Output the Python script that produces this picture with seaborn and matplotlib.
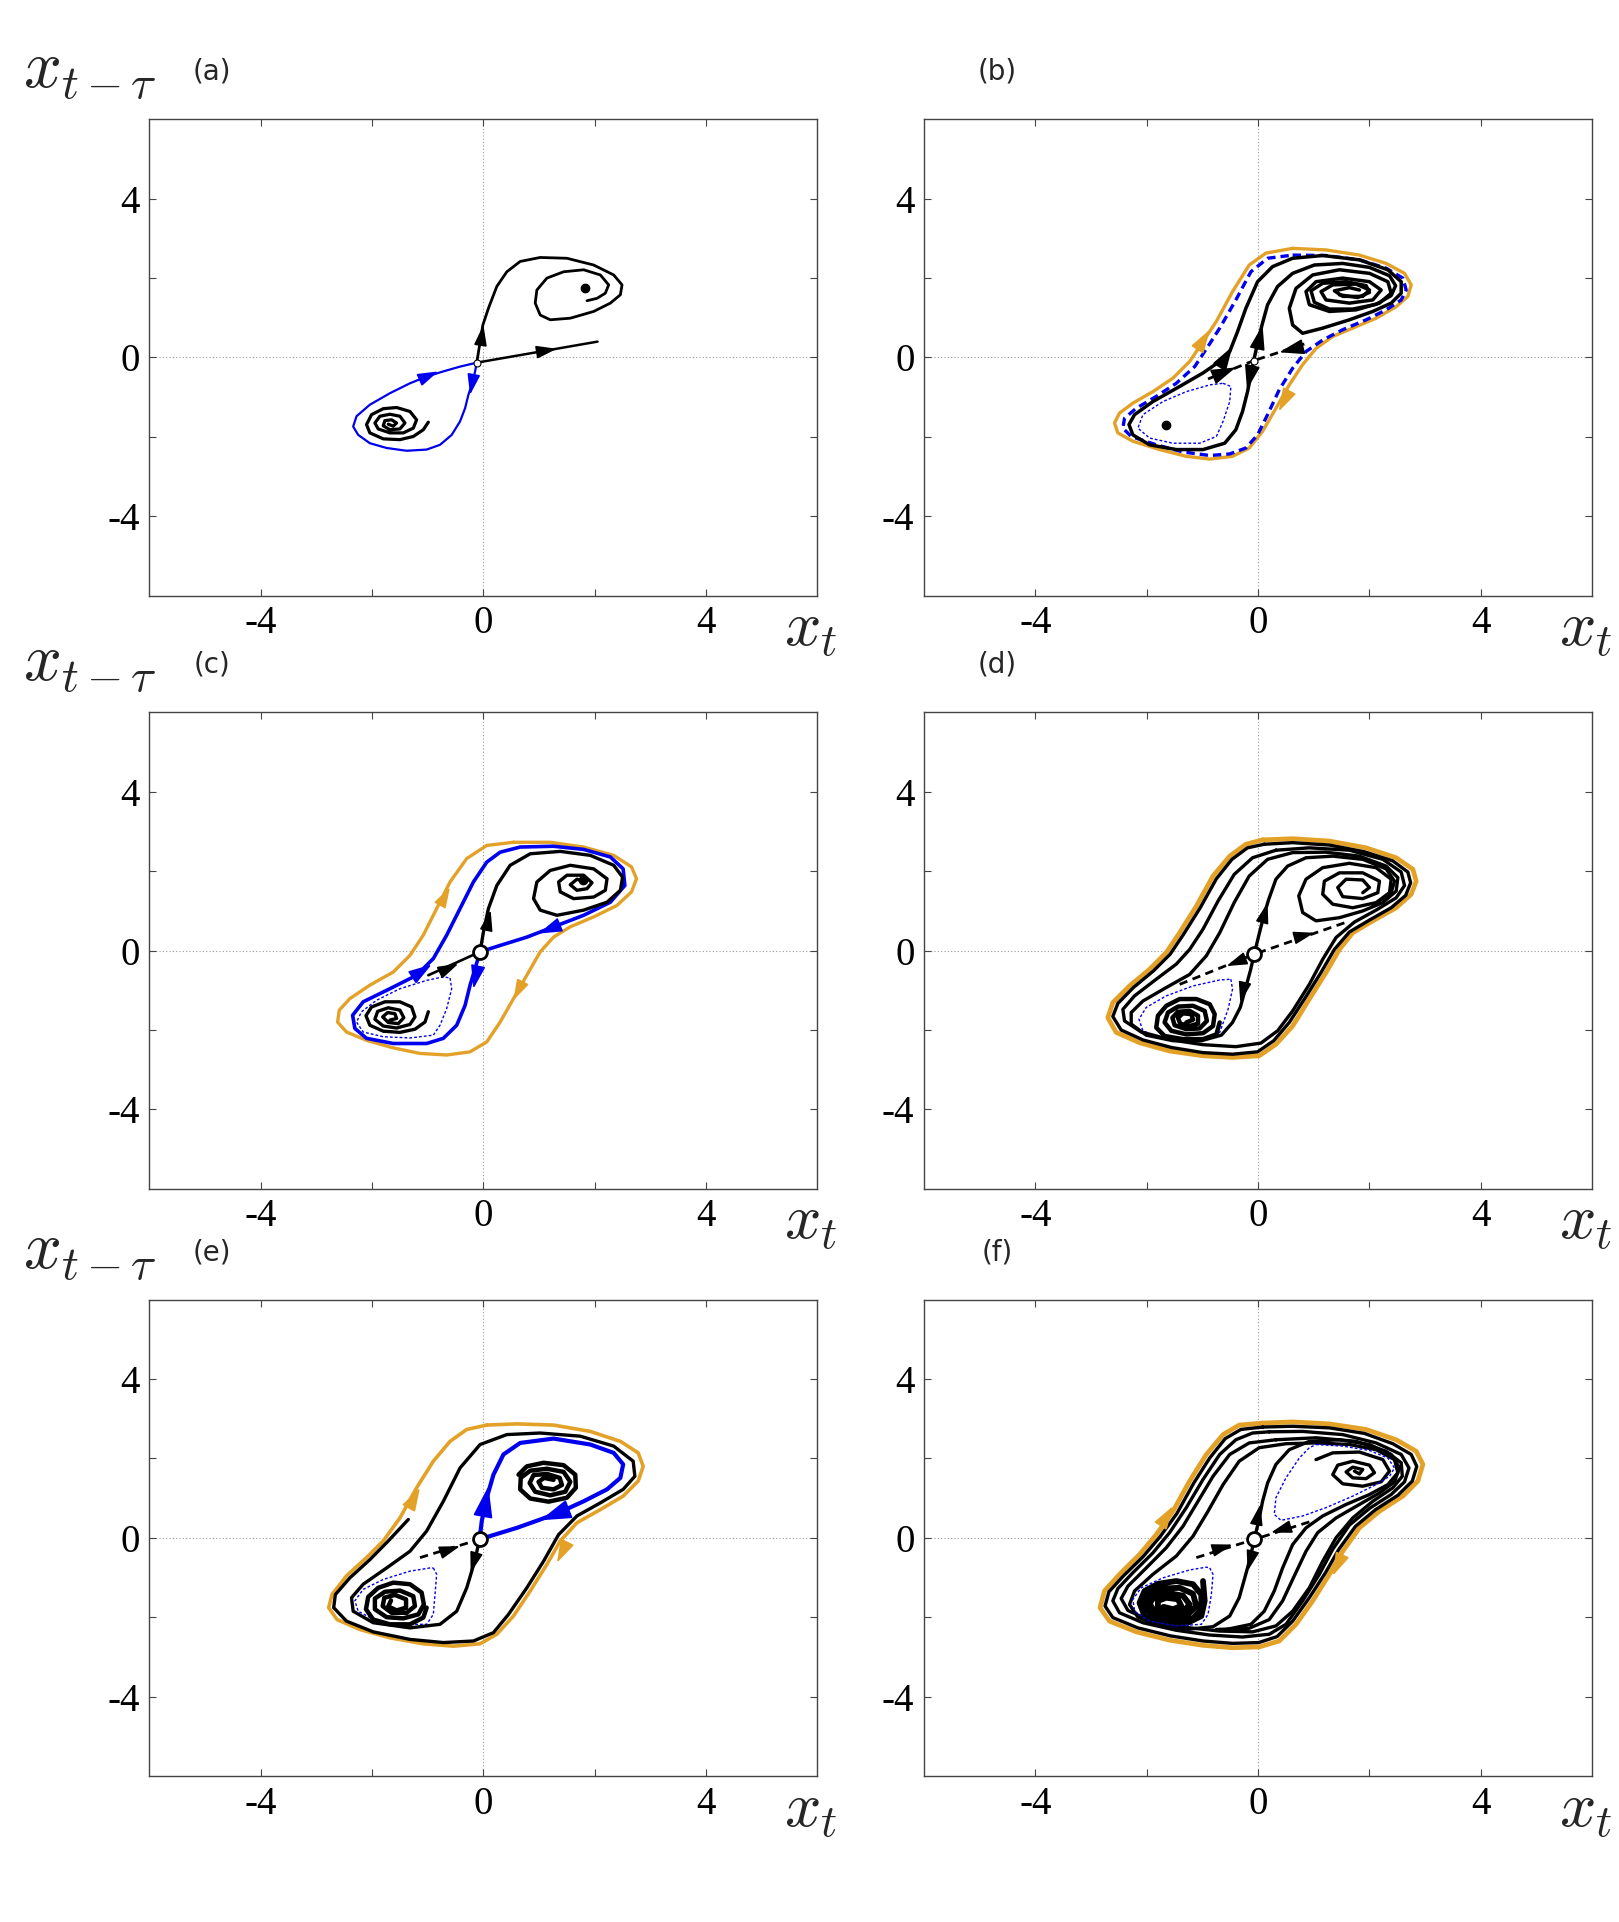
import matplotlib
matplotlib.use("Agg")
import matplotlib.pyplot as plt
import seaborn as sns

# -------------------------------
# STYLE
# -------------------------------
sns.set_theme(style="ticks")
plt.rcParams["font.family"] = ["serif"]
plt.rcParams["font.serif"] = ["Liberation Serif", "DejaVu Serif"]
plt.rcParams["mathtext.fontset"] = "cm"

ORANGE = "#E3A128"
BLUE = "#0000EE"

TICKS = [-4, -2, 0, 2, 4]
TICK_LABELS = ["-4", "", "0", "", "4"]
PANEL_TAGS = ["(a)", "(b)", "(c)", "(d)", "(e)", "(f)"]

# -------------------------------
# PANEL (a)
# -------------------------------
a_saddle = [(-0.12, -0.13)]
a_dots = [(1.83, 1.76)]
a_black_right = [(-0.12, -0.13), (2.05, 0.40)]
a_black_up = [(-0.12, -0.13), (-0.01, 0.82), (0.09, 1.24), (0.24, 1.79), (0.42, 2.16), (0.66, 2.42),
              (1.02, 2.52), (1.50, 2.50), (1.98, 2.33), (2.34, 2.08), (2.49, 1.83), (2.46, 1.58),
              (2.28, 1.37), (1.98, 1.16), (1.56, 0.99), (1.20, 0.95), (1.02, 1.07), (0.93, 1.37),
              (0.96, 1.70), (1.14, 2.00), (1.44, 2.16), (1.80, 2.21), (2.10, 2.08), (2.25, 1.83),
              (2.19, 1.62), (2.04, 1.49), (1.86, 1.43)]
a_blue = [(-0.12, -0.13), (-0.15, -0.35), (-0.19, -0.60), (-0.27, -0.94), (-0.33, -1.28), (-0.42, -1.61),
          (-0.57, -1.95), (-0.78, -2.20), (-1.02, -2.32), (-1.38, -2.35), (-1.74, -2.28), (-2.04, -2.16),
          (-2.25, -1.95), (-2.34, -1.74), (-2.28, -1.48), (-2.04, -1.19), (-1.68, -0.90), (-1.32, -0.65),
          (-1.02, -0.48), (-0.72, -0.35), (-0.42, -0.23), (-0.12, -0.13)]
a_spiral = [(-0.99, -1.63), (-1.08, -1.82), (-1.26, -1.99), (-1.50, -2.07), (-1.80, -2.05), (-2.04, -1.90),
            (-2.10, -1.69), (-2.01, -1.44), (-1.80, -1.29), (-1.56, -1.26), (-1.32, -1.36), (-1.20, -1.57),
            (-1.26, -1.78), (-1.44, -1.90), (-1.68, -1.90), (-1.89, -1.80), (-1.95, -1.65), (-1.86, -1.48),
            (-1.68, -1.43), (-1.50, -1.48), (-1.41, -1.65), (-1.50, -1.80), (-1.68, -1.82), (-1.80, -1.72),
            (-1.77, -1.59), (-1.65, -1.57), (-1.56, -1.65), (-1.62, -1.73), (-1.71, -1.68)]
a_arrows_black = [((1.02, 0.15), (1.32, 0.22)), ((-0.04, 0.44), (0.00, 0.82))]
a_arrows_blue = [((-1.08, -0.52), (-0.81, -0.35)), ((-0.19, -0.56), (-0.24, -0.94))]

# -------------------------------
# PANEL (b)
# -------------------------------
b_saddle = [(-0.08, -0.08)]
b_dots = [(-1.66, -1.69)]
b_orange = [(0.62, 2.75), (1.22, 2.71), (1.82, 2.58), (2.30, 2.37), (2.63, 2.12), (2.75, 1.83),
            (2.69, 1.54), (2.48, 1.28), (2.12, 0.99), (1.70, 0.74), (1.34, 0.53), (1.04, 0.23),
            (0.80, -0.18), (0.56, -0.69), (0.32, -1.28), (0.08, -1.86), (-0.16, -2.28), (-0.46, -2.49),
            (-0.87, -2.56), (-1.29, -2.49), (-1.77, -2.32), (-2.25, -2.11), (-2.52, -1.90), (-2.58, -1.65),
            (-2.49, -1.40), (-2.25, -1.15), (-1.89, -0.86), (-1.53, -0.52), (-1.23, -0.10), (-0.99, 0.40),
            (-0.75, 0.91), (-0.46, 1.66), (-0.16, 2.33), (0.14, 2.63), (0.62, 2.75)]
b_blue_dash = [(0.62, 2.58), (1.22, 2.57), (1.82, 2.46), (2.30, 2.25), (2.60, 2.00), (2.66, 1.70),
               (2.57, 1.45), (2.30, 1.20), (1.94, 0.95), (1.52, 0.70), (1.16, 0.44), (0.86, 0.15),
               (0.62, -0.27), (0.38, -0.81), (0.17, -1.44), (-0.01, -1.95), (-0.22, -2.28), (-0.51, -2.43),
               (-0.87, -2.47), (-1.35, -2.38), (-1.83, -2.20), (-2.28, -1.99), (-2.43, -1.78), (-2.40, -1.53),
               (-2.19, -1.28), (-1.83, -0.98), (-1.47, -0.65), (-1.14, -0.23), (-0.90, 0.28), (-0.69, 0.74),
               (-0.40, 1.45), (-0.13, 2.16), (0.17, 2.50), (0.62, 2.58)]
b_blue_thin = [(-0.63, -0.65), (-0.49, -0.73), (-0.51, -1.11), (-0.63, -1.61), (-0.75, -1.99), (-1.05, -2.16),
               (-1.53, -2.16), (-1.95, -2.03), (-2.16, -1.78), (-2.07, -1.44), (-1.71, -1.11), (-1.29, -0.86),
               (-0.87, -0.69), (-0.63, -0.65)]
b_black_loop = [(-0.08, -0.08), (-0.13, -0.44), (-0.19, -0.86), (-0.28, -1.36), (-0.40, -1.82), (-0.60, -2.16),
                (-0.99, -2.32), (-1.47, -2.32), (-1.95, -2.20), (-2.25, -1.95), (-2.32, -1.69), (-2.22, -1.44),
                (-1.89, -1.11), (-1.41, -0.73), (-0.99, -0.39), (-0.69, -0.10), (-0.51, 0.15), (-0.37, 0.65),
                (-0.22, 1.24), (-0.01, 1.91), (0.26, 2.29), (0.62, 2.50), (1.16, 2.57), (1.82, 2.46),
                (2.33, 2.21), (2.57, 1.91), (2.57, 1.62), (2.39, 1.37), (2.06, 1.16), (1.64, 0.95),
                (1.16, 0.74), (0.80, 0.61), (0.62, 0.82), (0.56, 1.24), (0.68, 1.74), (0.98, 2.08),
                (1.46, 2.21), (2.00, 2.12), (2.33, 1.91), (2.39, 1.62), (2.18, 1.37), (1.76, 1.20),
                (1.28, 1.16), (0.92, 1.33), (0.86, 1.66), (1.04, 1.91), (1.52, 2.00), (2.00, 1.91),
                (2.21, 1.70), (2.06, 1.45), (1.64, 1.37), (1.22, 1.45), (1.13, 1.66), (1.34, 1.83),
                (1.76, 1.85), (2.00, 1.70), (1.88, 1.54), (1.52, 1.54), (1.37, 1.68), (1.64, 1.76),
                (1.82, 1.70)]
b_black_up = [(-0.08, -0.08), (-0.01, 0.36), (0.07, 0.82), (0.17, 1.33), (0.35, 1.79), (0.62, 2.12),
              (1.01, 2.33), (1.52, 2.37), (2.00, 2.27), (2.36, 2.06), (2.47, 1.81), (2.39, 1.56),
              (2.12, 1.34), (1.70, 1.22), (1.28, 1.22), (1.01, 1.39), (0.95, 1.68), (1.16, 1.87),
              (1.58, 1.91), (1.94, 1.81), (2.00, 1.64), (1.79, 1.51), (1.46, 1.58)]
b_stable_left = [(-0.90, -0.54), (-0.08, -0.08)]
b_stable_right = [(0.83, 0.34), (-0.08, -0.08)]
b_arrows_black = [((0.02, 0.45), (0.08, 0.82)), ((-0.14, -0.44), (-0.20, -0.81)),
                  ((-0.63, -0.10), (-0.46, 0.28)), ((-0.69, -0.42), (-0.40, -0.25)),
                  ((0.68, 0.23), (0.38, 0.13))]
b_arrows_orange = [((-1.02, 0.36), (-0.87, 0.70)), ((0.51, -0.98), (0.37, -1.36))]

# -------------------------------
# PANEL (c)
# -------------------------------
c_saddle = [(-0.06, -0.03)]
c_dots = [(1.78, 1.77)]
c_orange = [(0.54, 2.73), (1.20, 2.73), (1.80, 2.61), (2.34, 2.40), (2.66, 2.11), (2.75, 1.81),
            (2.66, 1.48), (2.40, 1.14), (1.98, 0.85), (1.56, 0.60), (1.26, 0.34), (1.02, -0.03),
            (0.78, -0.62), (0.54, -1.21), (0.30, -1.80), (0.06, -2.30), (-0.24, -2.55), (-0.66, -2.63),
            (-1.14, -2.59), (-1.62, -2.45), (-2.10, -2.26), (-2.46, -2.05), (-2.62, -1.80), (-2.59, -1.50),
            (-2.40, -1.21), (-2.04, -0.87), (-1.62, -0.54), (-1.32, -0.12), (-1.08, 0.39), (-0.84, 1.06),
            (-0.60, 1.73), (-0.30, 2.32), (0.06, 2.65), (0.54, 2.73)]
c_blue = [(-0.06, -0.03), (0.30, 0.13), (0.78, 0.34), (1.26, 0.60), (1.80, 0.89), (2.28, 1.22),
          (2.54, 1.64), (2.51, 2.06), (2.28, 2.36), (1.80, 2.55), (1.26, 2.63), (0.66, 2.61),
          (0.30, 2.48), (0.06, 2.23), (-0.18, 1.73), (-0.42, 1.06), (-0.66, 0.39), (-0.90, -0.20),
          (-1.20, -0.62), (-1.68, -0.96), (-2.16, -1.29), (-2.35, -1.63), (-2.31, -1.96), (-2.10, -2.21),
          (-1.62, -2.34), (-1.02, -2.34), (-0.72, -2.21), (-0.48, -1.88), (-0.33, -1.38), (-0.24, -0.87),
          (-0.15, -0.45), (-0.06, -0.03)]
c_black_up = [(-0.06, -0.03), (0.00, 0.47), (0.09, 1.06), (0.24, 1.64), (0.48, 2.15), (0.84, 2.44),
              (1.38, 2.50), (1.92, 2.40), (2.34, 2.15), (2.50, 1.85), (2.46, 1.52), (2.22, 1.22),
              (1.80, 1.02), (1.32, 0.89), (1.02, 1.02), (0.90, 1.31), (0.96, 1.73), (1.20, 2.02),
              (1.56, 2.15), (1.98, 2.06), (2.22, 1.81), (2.19, 1.52), (1.98, 1.35), (1.62, 1.31),
              (1.38, 1.48), (1.35, 1.73), (1.50, 1.90), (1.80, 1.90), (1.95, 1.71), (1.86, 1.56),
              (1.68, 1.52), (1.56, 1.66), (1.68, 1.80), (1.80, 1.74)]
c_black_in = [(-0.99, -0.62), (-0.06, -0.03)]
c_spiral = [(-0.99, -1.54), (-1.05, -1.80), (-1.23, -1.98), (-1.50, -2.06), (-1.80, -2.03), (-2.04, -1.88),
            (-2.11, -1.64), (-2.01, -1.42), (-1.77, -1.29), (-1.50, -1.29), (-1.29, -1.42), (-1.23, -1.67),
            (-1.32, -1.86), (-1.56, -1.95), (-1.80, -1.90), (-1.95, -1.73), (-1.90, -1.53), (-1.71, -1.44),
            (-1.50, -1.50), (-1.43, -1.69), (-1.53, -1.84), (-1.71, -1.81), (-1.81, -1.67), (-1.72, -1.56),
            (-1.59, -1.59), (-1.56, -1.71), (-1.68, -1.75)]
c_blue_thin = [(-0.60, -0.69), (-0.57, -0.96), (-0.66, -1.46), (-0.78, -1.88), (-0.90, -2.13), (-1.32, -2.20),
               (-1.80, -2.17), (-2.16, -2.05), (-2.28, -1.80), (-2.19, -1.54), (-1.92, -1.25), (-1.50, -0.96),
               (-1.02, -0.75), (-0.72, -0.66), (-0.60, -0.69)]
c_arrows_black = [((0.07, 0.64), (0.13, 1.02)), ((-0.72, -0.51), (-0.45, -0.33))]
c_arrows_blue = [((1.32, 0.62), (0.99, 0.43)), ((-1.20, -0.60), (-0.93, -0.35)), ((-0.11, -0.49), (-0.18, -0.96))]
c_arrows_orange = [((-0.75, 1.22), (-0.60, 1.60)), ((0.69, -0.83), (0.54, -1.25))]

# -------------------------------
# PANEL (d)
# -------------------------------
d_saddle = [(-0.07, -0.09)]
d_orange = [(0.08, 2.79), (0.62, 2.82), (1.28, 2.76), (1.94, 2.59), (2.48, 2.34), (2.78, 2.05),
            (2.84, 1.75), (2.75, 1.42), (2.48, 1.08), (2.06, 0.75), (1.70, 0.45), (1.46, 0.03),
            (1.22, -0.55), (0.92, -1.22), (0.62, -1.90), (0.32, -2.36), (0.02, -2.65), (-0.46, -2.69),
            (-0.99, -2.65), (-1.59, -2.53), (-2.13, -2.32), (-2.55, -2.06), (-2.70, -1.69), (-2.61, -1.31),
            (-2.31, -0.89), (-1.95, -0.47), (-1.65, -0.05), (-1.41, 0.45), (-1.11, 1.12), (-0.81, 1.88),
            (-0.51, 2.38), (-0.22, 2.68), (0.08, 2.79)]
d_loop1 = [(0.11, 2.68), (0.62, 2.72), (1.28, 2.66), (1.91, 2.49), (2.42, 2.26), (2.69, 1.98),
           (2.74, 1.71), (2.65, 1.39), (2.39, 1.08), (2.00, 0.77), (1.64, 0.47), (1.37, 0.03),
           (1.13, -0.55), (0.85, -1.18), (0.56, -1.81), (0.28, -2.27), (-0.01, -2.55), (-0.46, -2.61),
           (-0.99, -2.57), (-1.56, -2.44), (-2.07, -2.25), (-2.46, -2.00), (-2.61, -1.66), (-2.52, -1.33),
           (-2.24, -0.93), (-1.88, -0.51), (-1.58, -0.09), (-1.34, 0.41), (-1.04, 1.08), (-0.75, 1.81),
           (-0.47, 2.30), (-0.19, 2.59), (0.11, 2.68)]
d_loop2 = [(0.32, 2.53), (0.92, 2.59), (1.64, 2.53), (2.24, 2.30), (2.57, 1.98), (2.63, 1.64),
           (2.48, 1.33), (2.12, 1.02), (1.73, 0.72), (1.40, 0.33), (1.16, -0.22), (0.92, -0.85),
           (0.62, -1.52), (0.35, -2.02), (0.05, -2.33), (-0.40, -2.42), (-0.99, -2.37), (-1.56, -2.25),
           (-2.10, -2.05), (-2.40, -1.77), (-2.43, -1.48), (-2.22, -1.14), (-1.83, -0.72), (-1.47, -0.34),
           (-1.23, 0.03), (-0.99, 0.54), (-0.72, 1.25), (-0.43, 1.92), (-0.10, 2.34), (0.32, 2.53)]
d_down = [(-0.07, -0.09), (-0.14, -0.51), (-0.23, -0.97), (-0.32, -1.43), (-0.46, -1.81), (-0.66, -2.13),
          (-1.02, -2.27), (-1.53, -2.27), (-2.01, -2.13), (-2.28, -1.85), (-2.28, -1.56), (-2.07, -1.27),
          (-1.65, -0.93), (-1.23, -0.60), (-0.93, -0.13), (-0.69, 0.45), (-0.43, 1.21), (-0.16, 1.88),
          (0.17, 2.30), (0.62, 2.47), (1.22, 2.48), (1.82, 2.38), (2.30, 2.13), (2.51, 1.84),
          (2.48, 1.50), (2.24, 1.21), (1.88, 1.00), (1.46, 0.83), (1.04, 0.75), (0.80, 0.96),
          (0.73, 1.38), (0.86, 1.80), (1.16, 2.09), (1.64, 2.20), (2.12, 2.09), (2.39, 1.80),
          (2.36, 1.46), (2.12, 1.21), (1.70, 1.08), (1.34, 1.17), (1.16, 1.42), (1.19, 1.75),
          (1.46, 1.96), (1.88, 1.96), (2.18, 1.75), (2.15, 1.46), (1.88, 1.31), (1.52, 1.36),
          (1.43, 1.59), (1.58, 1.80), (1.88, 1.78), (2.00, 1.59), (1.88, 1.46)]
d_up = [(-0.07, -0.09), (0.01, 0.37), (0.10, 0.87), (0.19, 1.29), (0.32, 1.80), (0.53, 2.13),
        (0.86, 2.34), (1.34, 2.38), (1.88, 2.30), (2.30, 2.06), (2.45, 1.75), (2.39, 1.46), (2.18, 1.25)]
d_dash_left = [(-1.41, -0.85), (-0.07, -0.09)]
d_dash_right = [(1.55, 0.70), (-0.07, -0.09)]
d_blue_thin = [(-0.49, -0.72), (-0.46, -0.97), (-0.54, -1.48), (-0.69, -2.06), (-0.87, -2.23), (-1.29, -2.25),
               (-1.71, -2.23), (-2.07, -2.02), (-2.14, -1.73), (-2.01, -1.43), (-1.65, -1.14), (-1.17, -0.89),
               (-0.69, -0.74), (-0.49, -0.72)]
d_blob = [(-0.69, -1.81), (-0.75, -2.11), (-0.99, -2.23), (-1.35, -2.23), (-1.68, -2.15), (-1.83, -1.94),
          (-1.80, -1.64), (-1.65, -1.39), (-1.41, -1.22), (-1.11, -1.22), (-0.87, -1.35), (-0.78, -1.60),
          (-0.81, -1.90), (-0.99, -2.08), (-1.29, -2.11), (-1.56, -2.02), (-1.68, -1.81), (-1.62, -1.56),
          (-1.44, -1.41), (-1.17, -1.39), (-0.96, -1.52), (-0.92, -1.77), (-1.05, -1.96), (-1.29, -1.98),
          (-1.50, -1.88), (-1.54, -1.69), (-1.44, -1.54), (-1.23, -1.52), (-1.08, -1.64), (-1.08, -1.84),
          (-1.23, -1.90), (-1.40, -1.84), (-1.44, -1.69), (-1.35, -1.58), (-1.20, -1.60), (-1.17, -1.74),
          (-1.29, -1.81)]
d_arrows_black = [((0.08, 0.75), (0.17, 1.21)), ((-0.25, -0.89), (-0.32, -1.31)),
                  ((-0.34, -0.26), (-0.57, -0.39)), ((0.68, 0.33), (1.01, 0.45))]

# -------------------------------
# PANEL (e)
# -------------------------------
e_saddle = [(-0.07, -0.04)]
e_orange = [(0.06, 2.84), (0.60, 2.87), (1.26, 2.84), (1.92, 2.68), (2.46, 2.43), (2.78, 2.14),
            (2.87, 1.80), (2.78, 1.43), (2.51, 1.05), (2.10, 0.71), (1.68, 0.38), (1.38, -0.08),
            (1.14, -0.67), (0.84, -1.34), (0.54, -1.97), (0.24, -2.43), (-0.06, -2.67), (-0.54, -2.73),
            (-1.08, -2.67), (-1.68, -2.52), (-2.22, -2.31), (-2.63, -2.06), (-2.78, -1.76), (-2.72, -1.43),
            (-2.46, -0.96), (-2.10, -0.50), (-1.80, -0.08), (-1.50, 0.50), (-1.20, 1.26), (-0.90, 1.93),
            (-0.60, 2.43), (-0.30, 2.73), (0.06, 2.84)]
e_black = [(-0.07, -0.04), (-0.13, -0.42), (-0.21, -0.84), (-0.30, -1.26), (-0.48, -1.85), (-0.78, -2.18),
           (-1.32, -2.27), (-1.98, -2.14), (-2.34, -1.85), (-2.37, -1.51), (-2.16, -1.17), (-1.74, -0.76),
           (-1.32, -0.34), (-1.02, 0.17), (-0.72, 0.92), (-0.42, 1.76), (-0.06, 2.35), (0.42, 2.60),
           (1.02, 2.64), (1.74, 2.56), (2.34, 2.31), (2.69, 1.93), (2.72, 1.55), (2.51, 1.22),
           (2.10, 0.88), (1.68, 0.55), (1.35, 0.08), (1.08, -0.59), (0.78, -1.26), (0.45, -1.93),
           (0.18, -2.39), (-0.18, -2.60), (-0.72, -2.64), (-1.32, -2.56), (-1.98, -2.37), (-2.46, -2.10),
           (-2.69, -1.76), (-2.66, -1.43), (-2.40, -1.01), (-2.04, -0.55), (-1.71, -0.08), (-1.35, 0.46)]
e_blue = [(-0.07, -0.04), (-0.03, 0.42), (0.06, 1.01), (0.18, 1.59), (0.36, 2.10), (0.66, 2.39),
          (1.26, 2.50), (1.92, 2.35), (2.34, 2.14), (2.51, 1.85), (2.46, 1.51), (2.22, 1.22),
          (1.80, 0.92), (1.38, 0.65), (1.02, 0.46), (0.60, 0.25), (0.18, 0.07), (-0.03, -0.02)]
e_dash = [(-1.14, -0.50), (-0.07, -0.04)]
e_blue_thin = [(-0.90, -0.76), (-0.84, -0.92), (-0.87, -1.43), (-0.90, -1.93), (-1.02, -2.18), (-1.50, -2.18),
               (-1.92, -2.10), (-2.25, -1.85), (-2.31, -1.59), (-2.16, -1.30), (-1.80, -1.05), (-1.32, -0.84),
               (-0.96, -0.76), (-0.90, -0.76)]
e_blob_left = [(-1.02, -1.76), (-1.08, -2.01), (-1.32, -2.18), (-1.68, -2.18), (-1.98, -2.06), (-2.11, -1.80),
               (-2.07, -1.49), (-1.89, -1.26), (-1.62, -1.13), (-1.32, -1.17), (-1.11, -1.38), (-1.07, -1.68),
               (-1.17, -1.93), (-1.44, -2.03), (-1.74, -2.00), (-1.95, -1.80), (-1.95, -1.53), (-1.77, -1.36),
               (-1.50, -1.33), (-1.26, -1.47), (-1.23, -1.72), (-1.38, -1.89), (-1.65, -1.89), (-1.81, -1.72),
               (-1.78, -1.51), (-1.59, -1.44), (-1.39, -1.55), (-1.39, -1.76), (-1.56, -1.83), (-1.71, -1.73),
               (-1.66, -1.58)]
e_blob_right = [(0.63, 1.59), (0.78, 1.80), (1.08, 1.89), (1.44, 1.83), (1.65, 1.59), (1.66, 1.26),
                (1.50, 1.01), (1.17, 0.91), (0.84, 0.99), (0.66, 1.22), (0.67, 1.51), (0.84, 1.69),
                (1.14, 1.74), (1.44, 1.66), (1.56, 1.41), (1.47, 1.16), (1.20, 1.07), (0.93, 1.16),
                (0.83, 1.38), (0.90, 1.58), (1.14, 1.61), (1.37, 1.51), (1.41, 1.33), (1.26, 1.22),
                (1.05, 1.26), (0.99, 1.41), (1.09, 1.51), (1.26, 1.46)]
e_arrows_black = [((-0.15, -0.50), (-0.23, -0.88)), ((-0.72, -0.35), (-0.42, -0.21))]
e_arrows_blue = [((0.03, 0.84), (0.09, 1.30)), ((1.44, 0.67), (1.02, 0.44))]
e_arrows_orange = [((-1.29, 0.88), (-1.14, 1.26)), ((1.47, -0.21), (1.32, -0.63))]

# -------------------------------
# PANEL (f)
# -------------------------------
f_saddle = [(-0.07, -0.04)]
f_orange = [(0.08, 2.89), (0.62, 2.92), (1.28, 2.87), (1.94, 2.73), (2.48, 2.47), (2.84, 2.18),
            (2.96, 1.85), (2.87, 1.43), (2.60, 1.05), (2.18, 0.67), (1.82, 0.25), (1.52, -0.34),
            (1.28, -0.92), (0.98, -1.59), (0.68, -2.18), (0.38, -2.60), (0.02, -2.75), (-0.46, -2.77),
            (-0.99, -2.71), (-1.59, -2.58), (-2.19, -2.37), (-2.67, -2.10), (-2.84, -1.76), (-2.76, -1.34),
            (-2.49, -0.92), (-2.13, -0.42), (-1.83, 0.08), (-1.53, 0.67), (-1.23, 1.43), (-0.93, 2.10),
            (-0.63, 2.60), (-0.34, 2.84), (0.08, 2.89)]
f_loop1 = [(0.08, 2.79), (0.62, 2.81), (1.28, 2.77), (1.91, 2.63), (2.42, 2.37), (2.75, 2.10),
           (2.85, 1.80), (2.77, 1.43), (2.51, 1.07), (2.11, 0.71), (1.75, 0.29), (1.45, -0.29),
           (1.21, -0.88), (0.91, -1.53), (0.62, -2.10), (0.34, -2.49), (0.01, -2.64), (-0.46, -2.66),
           (-0.99, -2.60), (-1.58, -2.47), (-2.16, -2.27), (-2.61, -2.01), (-2.75, -1.72), (-2.68, -1.36),
           (-2.42, -0.96), (-2.07, -0.48), (-1.76, 0.03), (-1.46, 0.61), (-1.16, 1.37), (-0.87, 2.01),
           (-0.59, 2.50), (-0.31, 2.73), (0.08, 2.79)]
f_loop2 = [(0.20, 2.67), (0.80, 2.68), (1.52, 2.60), (2.12, 2.39), (2.57, 2.10), (2.71, 1.76),
           (2.63, 1.41), (2.39, 1.09), (2.00, 0.74), (1.64, 0.32), (1.34, -0.29), (1.10, -0.92),
           (0.80, -1.59), (0.50, -2.18), (0.20, -2.43), (-0.28, -2.50), (-0.87, -2.45), (-1.47, -2.33),
           (-2.07, -2.14), (-2.49, -1.89), (-2.61, -1.59), (-2.52, -1.28), (-2.25, -0.88), (-1.89, -0.38),
           (-1.59, 0.13), (-1.29, 0.76), (-0.99, 1.47), (-0.69, 2.10), (-0.40, 2.47), (-0.10, 2.64),
           (0.20, 2.67)]
f_loop3 = [(0.32, 2.47), (1.04, 2.52), (1.76, 2.43), (2.30, 2.18), (2.57, 1.89), (2.59, 1.55),
           (2.42, 1.26), (2.06, 0.92), (1.70, 0.50), (1.40, 0.00), (1.16, -0.59), (0.92, -1.26),
           (0.62, -1.85), (0.32, -2.22), (-0.10, -2.37), (-0.69, -2.35), (-1.35, -2.25), (-1.95, -2.08),
           (-2.34, -1.83), (-2.46, -1.53), (-2.34, -1.22), (-2.01, -0.76), (-1.65, -0.25), (-1.35, 0.29),
           (-1.08, 0.92), (-0.81, 1.55), (-0.51, 2.10), (-0.16, 2.39), (0.32, 2.47)]
f_down = [(-0.07, -0.04), (-0.14, -0.50), (-0.23, -0.96), (-0.34, -1.51), (-0.51, -1.97), (-0.81, -2.24),
          (-1.29, -2.31), (-1.77, -2.22), (-2.16, -2.00), (-2.31, -1.68), (-2.22, -1.34), (-1.89, -0.92),
          (-1.47, -0.46), (-1.17, 0.04), (-0.90, 0.67), (-0.63, 1.34), (-0.34, 1.93), (0.02, 2.27),
          (0.50, 2.37), (1.04, 2.39), (1.64, 2.35), (2.12, 2.22), (2.45, 1.97), (2.51, 1.64),
          (2.33, 1.34), (2.00, 1.09), (1.58, 0.84), (1.16, 0.55), (0.86, 0.25), (0.62, -0.17),
          (0.44, -0.76), (0.29, -1.34), (0.11, -1.85), (-0.13, -2.18), (-0.57, -2.31)]
f_up = [(-0.07, -0.04), (0.01, 0.42), (0.08, 0.92), (0.17, 1.38), (0.32, 1.85), (0.56, 2.22),
        (0.92, 2.43), (1.46, 2.47), (2.00, 2.35), (2.39, 2.10), (2.54, 1.76), (2.45, 1.41),
        (2.18, 1.13), (1.82, 0.84), (1.40, 0.50), (1.07, 0.13), (0.86, -0.34), (0.65, -0.96),
        (0.44, -1.59), (0.20, -2.06), (-0.16, -2.28), (-0.75, -2.31)]
f_spiral = [(1.04, 1.97), (1.34, 2.14), (1.82, 2.16), (2.24, 1.97), (2.36, 1.68), (2.21, 1.41),
            (1.88, 1.30), (1.52, 1.36), (1.34, 1.59), (1.43, 1.83), (1.70, 1.93), (2.00, 1.83),
            (2.09, 1.64), (1.94, 1.49), (1.70, 1.51), (1.58, 1.66), (1.70, 1.78), (1.88, 1.72),
            (1.82, 1.61), (1.73, 1.68)]
f_blue_thin_left = [(-0.87, -0.76), (-0.81, -0.92), (-0.84, -1.43), (-0.90, -1.93), (-1.02, -2.18),
                    (-1.47, -2.22), (-1.95, -2.10), (-2.22, -1.85), (-2.25, -1.55), (-2.10, -1.26),
                    (-1.71, -1.01), (-1.23, -0.81), (-0.93, -0.74), (-0.87, -0.76)]
f_blue_thin_right = [(1.04, 2.35), (1.52, 2.31), (2.00, 2.20), (2.33, 2.01), (2.45, 1.76), (2.36, 1.55),
                     (2.12, 1.34), (1.70, 1.05), (1.22, 0.76), (0.80, 0.55), (0.41, 0.44), (0.29, 0.59),
                     (0.32, 1.01), (0.50, 1.51), (0.74, 2.01), (0.92, 2.27), (1.04, 2.35)]
f_dash_left = [(-1.11, -0.50), (-0.07, -0.04)]
f_dash_right = [(0.92, 0.40), (-0.07, -0.04)]
f_blob = [(-0.99, -1.09), (-0.96, -1.59), (-1.02, -1.97), (-1.29, -2.16), (-1.71, -2.16), (-2.04, -1.97),
          (-2.13, -1.64), (-2.04, -1.34), (-1.80, -1.16), (-1.47, -1.09), (-1.17, -1.17), (-1.02, -1.43),
          (-1.02, -1.80), (-1.17, -2.03), (-1.53, -2.07), (-1.89, -1.97), (-2.04, -1.72), (-1.98, -1.44),
          (-1.74, -1.28), (-1.41, -1.26), (-1.17, -1.41), (-1.11, -1.72), (-1.26, -1.93), (-1.59, -1.97),
          (-1.86, -1.86), (-1.95, -1.66), (-1.86, -1.47), (-1.62, -1.39), (-1.35, -1.46), (-1.23, -1.68),
          (-1.35, -1.86), (-1.62, -1.89), (-1.80, -1.76), (-1.80, -1.59), (-1.65, -1.51), (-1.44, -1.55),
          (-1.38, -1.72), (-1.53, -1.80), (-1.70, -1.74)]
f_arrows_black = [((-0.02, 0.42), (0.04, 0.84)), ((-0.11, -0.42), (-0.19, -0.84)),
                  ((-0.75, -0.29), (-0.46, -0.17)), ((0.56, 0.27), (0.23, 0.13))]
f_arrows_orange = [((-1.70, 0.42), (-1.53, 0.80)), ((1.46, -0.59), (1.34, -0.96))]


# -------------------------------
# HELPERS
# -------------------------------
def curve(ax, pts, color="black", lw=2.0, ls="-", z=3):
    xs = [p[0] for p in pts]
    ys = [p[1] for p in pts]
    sns.lineplot(x=xs, y=ys, sort=False, estimator=None, ax=ax, color=color, lw=lw,
                 linestyle=ls, solid_joinstyle="round", solid_capstyle="round", zorder=z)


def arrows(ax, items, color="black", size=14, z=4):
    for tail, tip in items:
        ax.annotate("", xy=tip, xytext=tail, zorder=z,
                    arrowprops=dict(arrowstyle="-|>,head_length=0.9,head_width=0.28",
                                    color=color, lw=1.2, shrinkA=0, shrinkB=0,
                                    mutation_scale=size))


def points(ax, pts, ms=6, face="black", edge="black", mew=1.0):
    xs = [p[0] for p in pts]
    ys = [p[1] for p in pts]
    ax.plot(xs, ys, "o", ms=ms, mfc=face, mec=edge, mew=mew, zorder=6)


def setup(ax, tag, left_col):
    ax.set_xlim(-6, 6)
    ax.set_ylim(-6, 6)
    ax.tick_params(direction="in", top=True, right=True, length=5, width=0.8,
                   color="#444444", labelcolor="black", pad=7)
    for s in ax.spines.values():
        s.set_color("#444444")
        s.set_linewidth(1.0)
    ax.axhline(0, color="#9a9a9a", lw=0.8, ls=(0, (1, 2)), zorder=0)
    ax.axvline(0, color="#9a9a9a", lw=0.8, ls=(0, (1, 2)), zorder=0)
    ax.text(0.99, -0.075, r"$x_t$", transform=ax.transAxes, fontsize=46,
            ha="center", va="center")
    if left_col:
        ax.text(-0.09, 1.10, r"$x_{t-\tau}$", transform=ax.transAxes, fontsize=48,
                ha="center", va="center")
        ax.text(0.094, 1.10, tag, transform=ax.transAxes, fontsize=20,
                family="DejaVu Sans", ha="center", va="center")
    else:
        ax.text(0.109, 1.10, tag, transform=ax.transAxes, fontsize=20,
                family="DejaVu Sans", ha="center", va="center")


def finish_ticks(ax):
    ax.set_xlabel("")
    ax.set_ylabel("")
    ax.set_xticks(TICKS)
    ax.set_yticks(TICKS)
    ax.set_xticklabels(TICK_LABELS, fontsize=28, fontfamily="Liberation Serif")
    ax.set_yticklabels(TICK_LABELS, fontsize=28, fontfamily="Liberation Serif")


fig = plt.figure(figsize=(16.19, 19.22), dpi=100)
LEFTS = [0.0923, 0.5708]
BOTTOMS = [0.6901, 0.3815, 0.0760]
W, H = 0.4126, 0.2478

axs = []
for i, tag in enumerate(PANEL_TAGS):
    r, c = divmod(i, 2)
    ax = fig.add_axes([LEFTS[c], BOTTOMS[r], W, H])
    setup(ax, tag, c == 0)
    axs.append(ax)

# -------------------------------
# (a)
# -------------------------------
ax = axs[0]
curve(ax, a_blue, BLUE, 1.6)
curve(ax, a_black_up, lw=2.0)
curve(ax, a_black_right, lw=1.8)
curve(ax, a_spiral, lw=2.3)
arrows(ax, a_arrows_black)
arrows(ax, a_arrows_blue, BLUE)
points(ax, a_dots, ms=6)
points(ax, a_saddle, ms=5, face="white", mew=0.8)

# -------------------------------
# (b)
# -------------------------------
ax = axs[1]
curve(ax, b_orange, ORANGE, 2.4, z=2)
curve(ax, b_blue_dash, BLUE, 2.4, ls=(0, (2.5, 1.5)), z=2)
curve(ax, b_blue_thin, BLUE, 1.0, ls=(0, (2, 1.5)), z=2)
curve(ax, b_black_loop, lw=2.5)
curve(ax, b_black_up, lw=2.5)
curve(ax, b_stable_left, lw=2.0, ls=(0, (3, 2)))
curve(ax, b_stable_right, lw=2.0, ls=(0, (3, 2)))
arrows(ax, b_arrows_black, size=17)
arrows(ax, b_arrows_orange, ORANGE, size=16)
points(ax, b_dots, ms=6)
points(ax, b_saddle, ms=5, face="white", mew=0.8)

# -------------------------------
# (c)
# -------------------------------
ax = axs[2]
curve(ax, c_orange, ORANGE, 2.4, z=2)
curve(ax, c_blue, BLUE, 2.6, z=2)
curve(ax, c_blue_thin, BLUE, 1.0, ls=(0, (2, 1.5)), z=2)
curve(ax, c_black_up, lw=2.4)
curve(ax, c_black_in, lw=1.9)
curve(ax, c_spiral, lw=2.4)
arrows(ax, c_arrows_black)
arrows(ax, c_arrows_blue, BLUE, size=16)
arrows(ax, c_arrows_orange, ORANGE)
points(ax, c_dots, ms=6)
points(ax, c_saddle, ms=10, face="white", mew=2.0)

# -------------------------------
# (d)
# -------------------------------
ax = axs[3]
curve(ax, d_orange, ORANGE, 3.4, z=2)
curve(ax, d_loop1, lw=2.4)
curve(ax, d_loop2, lw=2.4)
curve(ax, d_down, lw=2.4)
curve(ax, d_up, lw=2.4)
curve(ax, d_dash_left, lw=2.0, ls=(0, (3, 2)))
curve(ax, d_dash_right, lw=2.0, ls=(0, (3, 2)))
curve(ax, d_blue_thin, BLUE, 1.0, ls=(0, (2, 1.5)), z=2)
curve(ax, d_blob, lw=3.2)
arrows(ax, d_arrows_black)
points(ax, d_saddle, ms=10, face="white", mew=2.0)

# -------------------------------
# (e)
# -------------------------------
ax = axs[4]
curve(ax, e_orange, ORANGE, 2.6, z=2)
curve(ax, e_black, lw=2.4)
curve(ax, e_blue, BLUE, 3.0, z=3)
curve(ax, e_dash, lw=2.0, ls=(0, (3, 2)))
curve(ax, e_blue_thin, BLUE, 1.0, ls=(0, (2, 1.5)), z=2)
curve(ax, e_blob_left, lw=3.2)
curve(ax, e_blob_right, lw=3.2)
arrows(ax, e_arrows_black)
arrows(ax, e_arrows_blue, BLUE, size=22)
arrows(ax, e_arrows_orange, ORANGE, size=16)
points(ax, e_saddle, ms=10, face="white", mew=2.0)

# -------------------------------
# (f)
# -------------------------------
ax = axs[5]
curve(ax, f_orange, ORANGE, 3.4, z=2)
curve(ax, f_loop1, lw=2.4)
curve(ax, f_loop2, lw=2.4)
curve(ax, f_loop3, lw=2.4)
curve(ax, f_down, lw=2.4)
curve(ax, f_up, lw=2.4)
curve(ax, f_spiral, lw=2.4)
curve(ax, f_blue_thin_left, BLUE, 1.0, ls=(0, (2, 1.5)), z=4)
curve(ax, f_blue_thin_right, BLUE, 1.0, ls=(0, (2, 1.5)), z=4)
curve(ax, f_dash_left, lw=2.0, ls=(0, (3, 2)))
curve(ax, f_dash_right, lw=2.0, ls=(0, (3, 2)))
curve(ax, f_blob, lw=4.2)
arrows(ax, f_arrows_black)
arrows(ax, f_arrows_orange, ORANGE, size=16)
points(ax, f_saddle, ms=10, face="white", mew=2.0)

for ax in axs:
    finish_ticks(ax)

fig.savefig("out.png", dpi=100)
